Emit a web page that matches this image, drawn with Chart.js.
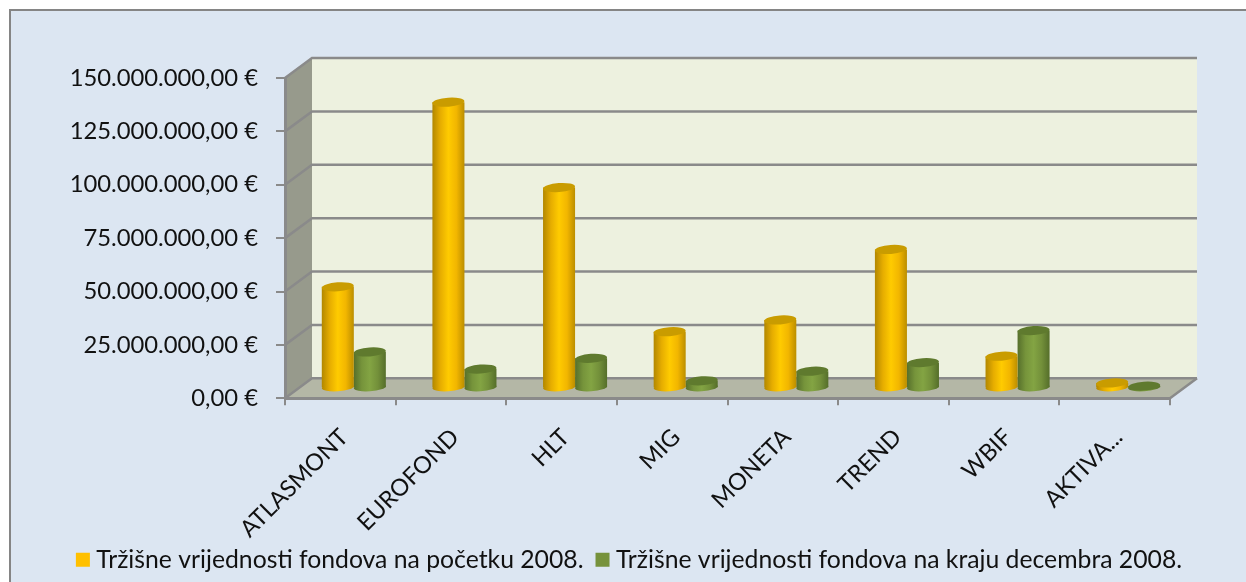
<!DOCTYPE html>
<html><head><meta charset="utf-8">
<style>
html,body{margin:0;padding:0;background:#fff;width:1246px;height:582px;overflow:hidden}
#panel{position:absolute;left:9px;top:9px;width:1300px;height:640px;background:#dce6f2;border:2px solid #858585;box-sizing:border-box}
#wrap{position:absolute;left:0;top:0;width:1246px;height:582px}
</style>
<script src="https://cdn.jsdelivr.net/npm/chart.js@4"></script>
</head><body>
<div id="panel"></div>
<div id="wrap"><canvas id="c" width="1246" height="582"></canvas></div>
<script>
const categories=['ATLASMONT','EUROFOND','HLT','MIG','MONETA','TREND','WBIF','AKTIVA...'];
const seriesStart=[47500000,134000000,94000000,26500000,32000000,65000000,15000000,2500000];
const seriesEnd=[17000000,9000000,14000000,3500000,8000000,12000000,27000000,1000000];
const seriesNames=['Tržišne vrijednosti fondova na početku 2008.','Tržišne vrijednosti fondova na kraju decembra 2008.'];
const yTickLabels=['0,00 €','25.000.000,00 €','50.000.000,00 €','75.000.000,00 €','100.000.000,00 €','125.000.000,00 €','150.000.000,00 €'];
const legendColors=['#ffc000','#76923c'];
const capColors=['#c99c00','#5f7a2e'];
const stops=[['#b28700','#e6ad00','#ffcb00','#f2b600','#bb8e00'],['#566f2b','#76943b','#83a443','#73903a','#556e2a']];
const FONT='Lato', DX=27, DY=-20, GAP=0.579;
const grey='#8a8a8a';

function barGrad(ctx){
  const ch=ctx.chart, xs=ch.scales.x, di=ctx.datasetIndex;
  if(!xs||ctx.dataIndex===undefined) return legendColors[di];
  const w=xs.width/categories.length*GAP/2;
  const c=xs.getPixelForTick(ctx.dataIndex);
  const x0=di===0?c-w:c, x1=x0+w;
  const g=ch.ctx.createLinearGradient(x0,0,x1,0);
  stops[di].forEach((s,i)=>g.addColorStop(i/4,s));
  return g;
}
const walls={
  id:'walls',
  afterLayout(ch){
    const l=ch.legend;
    l.left+=47;l.right+=47;
    ch.scales.x.bottom+=30;
  },
  beforeDraw(ch){
    const {ctx,chartArea:a,scales:{y}}=ch;
    ctx.save();
    ctx.fillStyle='#edf1df';
    ctx.fillRect(a.left+DX,a.top+DY,a.width,a.height);
    ctx.fillStyle='#979a8c';
    ctx.beginPath();ctx.moveTo(a.left,a.top);ctx.lineTo(a.left+DX,a.top+DY);ctx.lineTo(a.left+DX,a.bottom+DY);ctx.lineTo(a.left,a.bottom);ctx.closePath();ctx.fill();
    ctx.fillStyle='#b4b7a6';
    ctx.beginPath();ctx.moveTo(a.left,a.bottom);ctx.lineTo(a.left+DX,a.bottom+DY);ctx.lineTo(a.right+DX,a.bottom+DY);ctx.lineTo(a.right,a.bottom);ctx.closePath();ctx.fill();
    ctx.strokeStyle=grey;ctx.lineWidth=2.5;
    y.ticks.forEach(t=>{
      const p=y.getPixelForValue(t.value);
      ctx.beginPath();ctx.moveTo(a.left,p);ctx.lineTo(a.left+DX,p+DY);ctx.lineTo(a.right+DX,p+DY);ctx.stroke();
    });
    ctx.beginPath();ctx.moveTo(a.right,a.bottom);ctx.lineTo(a.right+DX,a.bottom+DY);ctx.stroke();
    ctx.restore();
  },
  beforeDatasetDraw(ch,args){
    const ctx=ch.ctx;
    ctx.save();
    ctx.translate(DX/2,DY/2);
    args.meta.data.forEach(b=>{
      const p=b.getProps(['x','base','width'],true);
      ctx.fillStyle=b.options.backgroundColor;
      ctx.beginPath();ctx.ellipse(p.x,p.base,p.width/2,4,-0.07,0,Math.PI*2);ctx.fill();
    });
  },
  afterDatasetDraw(ch,args){
    const ctx=ch.ctx;
    args.meta.data.forEach(b=>{
      const p=b.getProps(['x','y','width'],true);
      ctx.fillStyle=capColors[args.index];
      ctx.beginPath();ctx.ellipse(p.x,p.y,p.width/2,4.5,-0.07,0,Math.PI*2);ctx.fill();
    });
    ctx.restore();
  }
};
new Chart(document.getElementById('c'),{
  type:'bar',
  plugins:[walls],
  data:{labels:categories,datasets:[
    {label:seriesNames[0],data:seriesStart,backgroundColor:barGrad},
    {label:seriesNames[1],data:seriesEnd,backgroundColor:barGrad}
  ]},
  options:{
    responsive:false,animation:false,
    categoryPercentage:GAP,barPercentage:1,
    layout:{padding:{left:0,right:76,top:78,bottom:0}},
    scales:{
      x:{
        grid:{drawOnChartArea:false,color:grey,lineWidth:2,tickLength:7},
        border:{color:grey,width:3},
        ticks:{autoSkip:false,minRotation:45,maxRotation:45,color:'#111',padding:18,labelOffset:4,font:{family:FONT,size:23.5}},
        afterFit(s){s.height=131}
      },
      y:{
        min:0,max:150000000,
        grid:{drawOnChartArea:false,color:grey,lineWidth:2,tickLength:9},
        border:{color:grey,width:3},
        ticks:{stepSize:25000000,color:'#111',padding:18,font:{family:FONT,size:23.8},callback:(v,i)=>yTickLabels[i]},
        afterFit(s){s.width=285}
      }
    },
    plugins:{
      tooltip:{enabled:false},
      legend:{position:'bottom',labels:{color:'#111',boxWidth:2,boxHeight:2,padding:18,font:{family:FONT,size:24.75},
        generateLabels:ch=>ch.data.datasets.map((d,i)=>({text:d.label,fillStyle:legendColors[i],strokeStyle:legendColors[i],lineWidth:12,lineJoin:'miter',datasetIndex:i,fontColor:'#111'}))}}
    }
  }
});
</script>
</body></html>
